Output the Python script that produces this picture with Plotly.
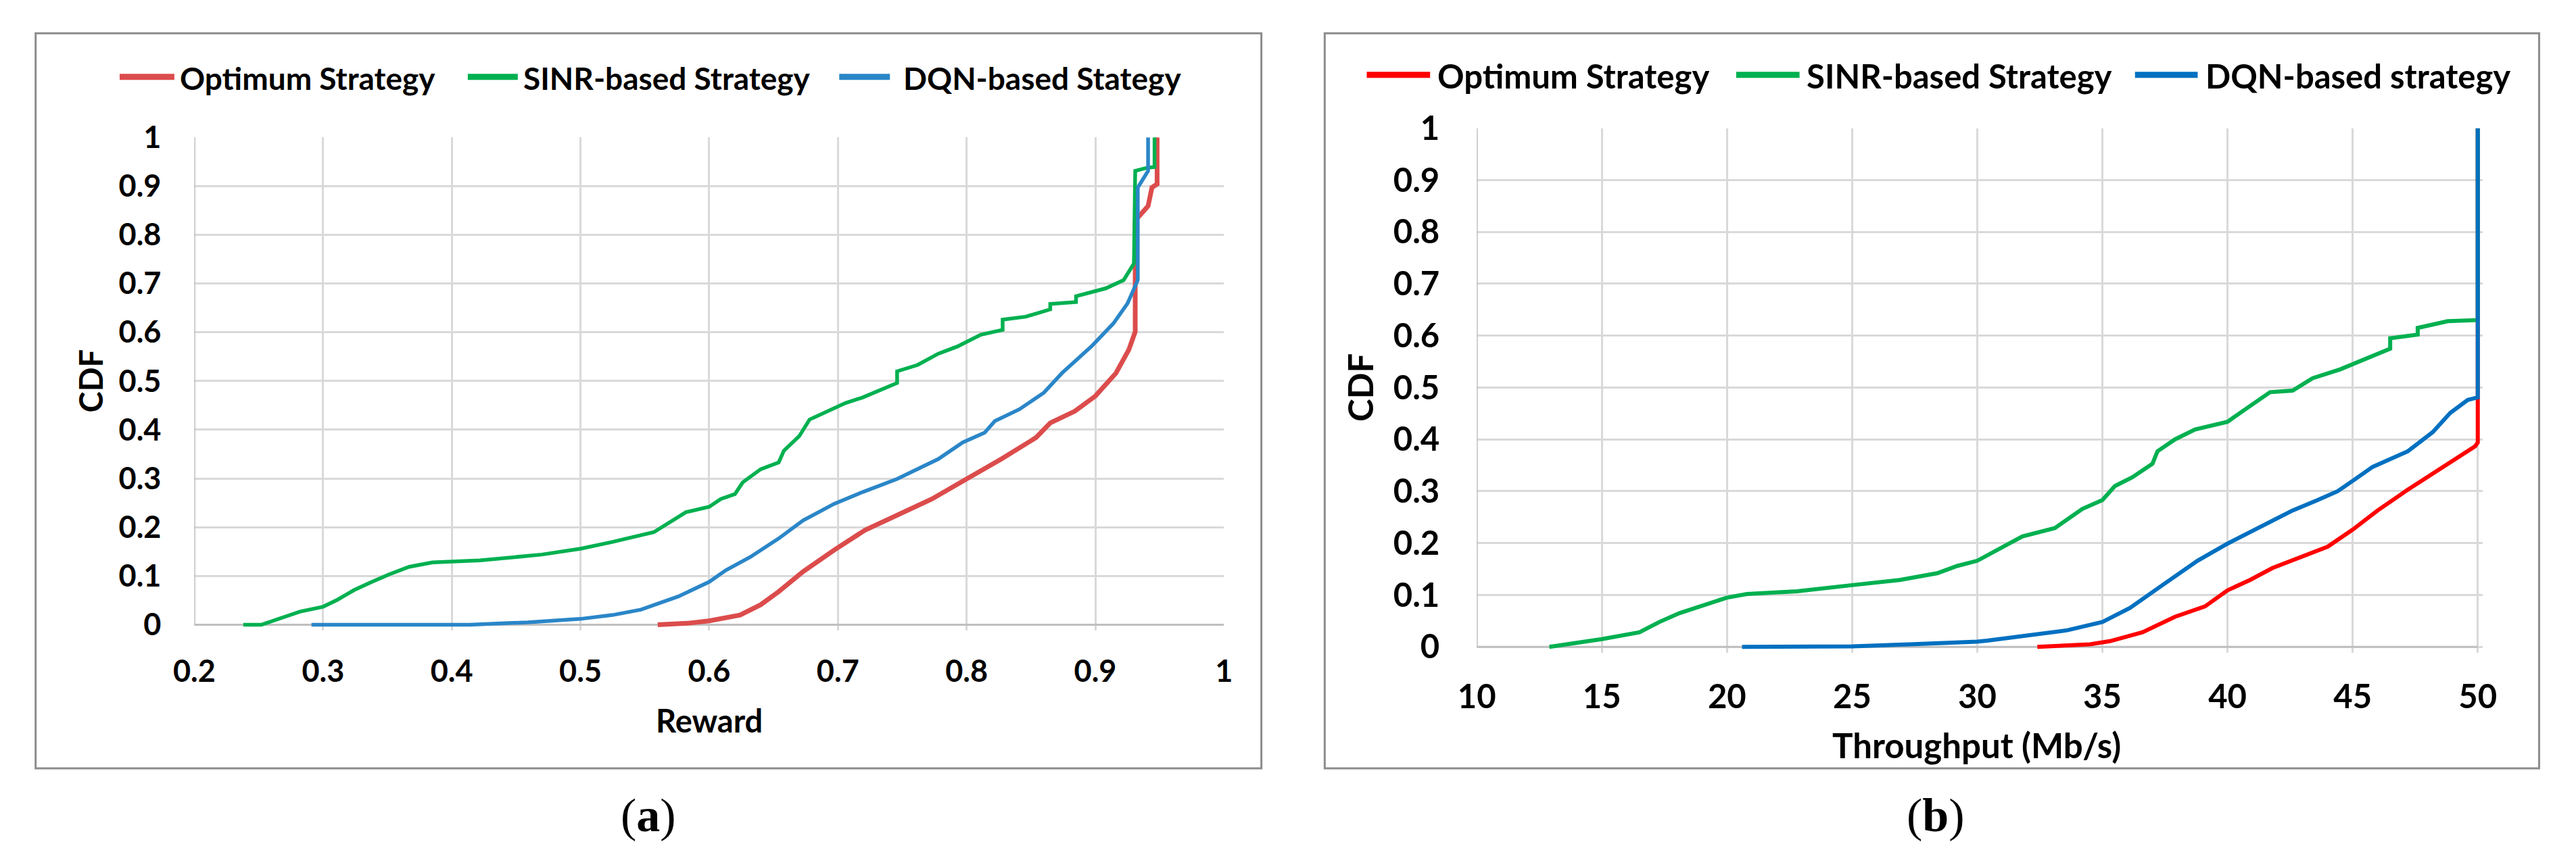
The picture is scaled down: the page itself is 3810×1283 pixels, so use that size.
import plotly.graph_objects as go

W, H = 3810, 1283

# ---------------- data: (a) reward CDF ----------------
opt_a_x = [0.560, 0.583, 0.600, 0.610, 0.624, 0.640, 0.654, 0.673, 0.697, 0.721, 0.746, 0.773, 0.800,
           0.827, 0.854, 0.865, 0.884, 0.900, 0.916, 0.926, 0.931, 0.931, 0.941, 0.944, 0.948, 0.948]
opt_a_y = [0, 0.003, 0.008, 0.013, 0.020, 0.041, 0.068, 0.109, 0.153, 0.194, 0.224, 0.258, 0.299,
           0.340, 0.384, 0.414, 0.438, 0.469, 0.516, 0.564, 0.601, 0.829, 0.859, 0.897, 0.904, 1.0]

sinr_a_x = [0.238, 0.252, 0.282, 0.300, 0.311, 0.324, 0.338, 0.351, 0.367, 0.385, 0.422, 0.470, 0.500,
            0.525, 0.557, 0.582, 0.600, 0.609, 0.620, 0.626, 0.640, 0.654, 0.658, 0.670, 0.678, 0.695,
            0.706, 0.719, 0.733, 0.746, 0.746, 0.762, 0.778, 0.793, 0.811, 0.828, 0.828, 0.846, 0.865,
            0.865, 0.885, 0.885, 0.908, 0.922, 0.930, 0.931, 0.941, 0.946, 0.946]
sinr_a_y = [0, 0, 0.027, 0.037, 0.051, 0.071, 0.088, 0.103, 0.119, 0.128, 0.132, 0.144, 0.156,
            0.170, 0.190, 0.231, 0.242, 0.258, 0.268, 0.292, 0.319, 0.333, 0.357, 0.387, 0.421, 0.442,
            0.455, 0.466, 0.482, 0.496, 0.520, 0.533, 0.556, 0.571, 0.595, 0.605, 0.626, 0.632, 0.647,
            0.658, 0.662, 0.674, 0.690, 0.707, 0.741, 0.931, 0.938, 0.939, 1.0]

dqn_a_x = [0.291, 0.414, 0.459, 0.500, 0.525, 0.547, 0.576, 0.600, 0.613, 0.632, 0.654, 0.673, 0.697,
           0.719, 0.746, 0.762, 0.778, 0.797, 0.814, 0.822, 0.841, 0.860, 0.874, 0.897, 0.914, 0.925,
           0.933, 0.933, 0.941, 0.941]
dqn_a_y = [0, 0, 0.005, 0.012, 0.020, 0.031, 0.058, 0.088, 0.112, 0.139, 0.177, 0.214, 0.248,
           0.272, 0.299, 0.319, 0.340, 0.374, 0.394, 0.418, 0.442, 0.476, 0.516, 0.571, 0.618, 0.659,
           0.707, 0.897, 0.931, 1.0]

# ---------------- data: (b) throughput CDF ----------------
opt_b_x = [32.4, 34.5, 35.3, 36.6, 37.9, 39.1, 40.0, 40.9, 41.8, 44.0, 45.0, 46.0, 47.2, 48.4, 49.9, 50.0, 50.0]
opt_b_y = [0, 0.005, 0.011, 0.028, 0.058, 0.078, 0.109, 0.129, 0.152, 0.193, 0.226, 0.263, 0.303, 0.340,
           0.387, 0.394, 1.0]

sinr_b_x = [12.9, 13.6, 15.0, 16.5, 17.3, 18.1, 19.4, 20.0, 20.8, 22.8, 25.0, 26.9, 28.4, 29.2, 30.0,
            30.8, 31.8, 33.1, 34.2, 35.0, 35.5, 36.2, 37.0, 37.2, 37.9, 38.7, 40.0, 40.8, 41.7, 42.6,
            43.4, 44.5, 45.5, 46.5, 46.5, 47.6, 47.6, 48.8, 50.0, 50.0]
sinr_b_y = [0, 0.005, 0.015, 0.028, 0.048, 0.065, 0.085, 0.095, 0.102, 0.107, 0.119, 0.129, 0.142, 0.156,
            0.166, 0.186, 0.213, 0.229, 0.266, 0.283, 0.310, 0.327, 0.353, 0.377, 0.400, 0.419, 0.434,
            0.461, 0.491, 0.494, 0.518, 0.535, 0.555, 0.575, 0.595, 0.602, 0.615, 0.628, 0.630, 1.0]

dqn_b_x = [20.6, 25.0, 27.3, 29.0, 30.0, 30.4, 32.4, 33.6, 35.0, 36.1, 37.4, 38.8, 40.0, 41.2, 42.6,
           43.6, 44.4, 45.0, 45.8, 47.2, 48.2, 48.9, 49.6, 50.0, 50.0]
dqn_b_y = [0, 0.001, 0.005, 0.007, 0.010, 0.012, 0.025, 0.032, 0.048, 0.075, 0.119, 0.166, 0.199, 0.229,
           0.263, 0.283, 0.300, 0.320, 0.347, 0.377, 0.414, 0.451, 0.476, 0.481, 1.0]

# ---------------- labels ----------------
names_a = ["Optimum Strategy", "SINR-based Strategy", "DQN-based Stategy"]
names_b = ["Optimum Strategy", "SINR-based Strategy", "DQN-based strategy"]
y_ticks = [0, 0.1, 0.2, 0.3, 0.4, 0.5, 0.6, 0.7, 0.8, 0.9, 1]
y_ticktext = ["0", "0.1", "0.2", "0.3", "0.4", "0.5", "0.6", "0.7", "0.8", "0.9", "1"]
xa_ticks = [0.2, 0.3, 0.4, 0.5, 0.6, 0.7, 0.8, 0.9, 1]
xa_ticktext = ["0.2", "0.3", "0.4", "0.5", "0.6", "0.7", "0.8", "0.9", "1"]
xb_ticks = [10, 15, 20, 25, 30, 35, 40, 45, 50]
xb_ticktext = ["10", "15", "20", "25", "30", "35", "40", "45", "50"]

colors_a = ["#DC4C4C", "#00B050", "#2A86C8"]
colors_b = ["#FF0000", "#00B050", "#0070C0"]
widths_a = [7, 5.5, 5.5]
widths_b = [6, 6, 6]

FONT = "Lato"
GRID = "#D9D9D9"
AXL = "#BFBFBF"
BORDER = "#8C8C8C"


def px(x):
    return x / W


def py(y):
    return 1 - y / H


fig = go.Figure()

series_a = [(opt_a_x, opt_a_y), (sinr_a_x, sinr_a_y), (dqn_a_x, dqn_a_y)]
series_b = [(opt_b_x, opt_b_y), (sinr_b_x, sinr_b_y), (dqn_b_x, dqn_b_y)]

for (xs, ys), nm, c, w in zip(series_a, names_a, colors_a, widths_a):
    fig.add_trace(go.Scatter(x=xs, y=ys, mode="lines", name=nm, showlegend=False,
                             line=dict(color=c, width=w), xaxis="x", yaxis="y"))
for (xs, ys), nm, c, w in zip(series_b, names_b, colors_b, widths_b):
    fig.add_trace(go.Scatter(x=xs, y=ys, mode="lines", name=nm, showlegend=False,
                             line=dict(color=c, width=w), xaxis="x2", yaxis="y2"))

# geometry (pixels of the 3810x1283 page)
# panel a: x 0.2 -> 260px, 1.0 -> 1804px ; y 0 -> 929px, 1 -> 179px
a_ext = 0.012
a_bottom = 929 + a_ext * 750
# panel b: x 10 -> 2183px, 50 -> 3684px ; y 0 -> 963px, 1 -> 165px
b_xext = 0.2
b_right = 3684 + b_xext * (1501 / 40)
b_ext = 0.012
b_bottom = 963 + b_ext * 798

tickfont_a = dict(family=FONT, size=45, color="black", weight="bold")
tickfont_b = dict(family=FONT, size=49, color="black", weight="bold")

common = dict(showgrid=True, gridcolor=GRID, gridwidth=3, zeroline=False, showline=False,
              ticks="", fixedrange=True)

fig.update_layout(
    width=W, height=H,
    margin=dict(l=0, r=0, t=0, b=0, pad=0),
    paper_bgcolor="white", plot_bgcolor="white",
    showlegend=False,
    xaxis=dict(domain=[px(260), px(1804)], range=[0.2, 1.0], tickvals=xa_ticks, ticktext=xa_ticktext,
               tickfont=tickfont_a, anchor="y", ticklabelstandoff=30, **common),
    yaxis=dict(domain=[py(a_bottom), py(179)], range=[-a_ext, 1.0], tickvals=y_ticks, ticktext=y_ticktext,
               tickfont=tickfont_a, anchor="x", ticklabelstandoff=48, **common),
    xaxis2=dict(domain=[px(2183), px(b_right)], range=[10, 50 + b_xext], tickvals=xb_ticks,
                ticktext=xb_ticktext, tickfont=tickfont_b, anchor="y2", ticklabelstandoff=32, **common),
    yaxis2=dict(domain=[py(b_bottom), py(165)], range=[-b_ext, 1.0], tickvals=y_ticks, ticktext=y_ticktext,
                tickfont=tickfont_b, anchor="x2", ticklabelstandoff=54, **common),
)

shapes = []
# panel borders
shapes.append(dict(type="rect", xref="paper", yref="paper", x0=px(22), x1=px(1860), y0=py(1150), y1=py(19),
                   line=dict(color=BORDER, width=3), fillcolor="rgba(0,0,0,0)", layer="below"))
shapes.append(dict(type="rect", xref="paper", yref="paper", x0=px(1955), x1=px(3776), y0=py(1150), y1=py(19),
                   line=dict(color=BORDER, width=3), fillcolor="rgba(0,0,0,0)", layer="below"))
# axis lines
shapes.append(dict(type="line", xref="x", yref="y", x0=0.2, x1=1.0, y0=0, y1=0,
                   line=dict(color=AXL, width=3), layer="between"))
shapes.append(dict(type="line", xref="x", yref="y", x0=0.2, x1=0.2, y0=0, y1=1,
                   line=dict(color=AXL, width=3), layer="between"))
shapes.append(dict(type="line", xref="x2", yref="y2", x0=10, x1=50, y0=0, y1=0,
                   line=dict(color=AXL, width=3), layer="between"))
shapes.append(dict(type="line", xref="x2", yref="y2", x0=10, x1=10, y0=0, y1=1,
                   line=dict(color=AXL, width=3), layer="between"))

annotations = []
# legend (a)
leg_a = [(148, 230, 236), (670, 745, 751), (1227, 1303, 1321)]
for (l0, l1, tx), nm, c in zip(leg_a, names_a, colors_a):
    shapes.append(dict(type="line", xref="paper", yref="paper", x0=px(l0), x1=px(l1), y0=py(86), y1=py(86),
                       line=dict(color=c, width=9)))
    annotations.append(dict(xref="paper", yref="paper", x=px(tx), y=py(88), xanchor="left", yanchor="middle",
                            text=nm, showarrow=False, font=dict(family=FONT, size=46, color="black", weight="bold")))
# legend (b)
leg_b = [(2018, 2113, 2122), (2572, 2667, 2676), (3170, 3264, 3274)]
for (l0, l1, tx), nm, c in zip(leg_b, names_b, colors_b):
    shapes.append(dict(type="line", xref="paper", yref="paper", x0=px(l0), x1=px(l1), y0=py(83), y1=py(83),
                       line=dict(color=c, width=9)))
    annotations.append(dict(xref="paper", yref="paper", x=px(tx), y=py(84), xanchor="left", yanchor="middle",
                            text=nm, showarrow=False, font=dict(family=FONT, size=49, color="black", weight="bold")))

# axis titles
annotations.append(dict(xref="paper", yref="paper", x=px(104), y=py(554), text="CDF", textangle=-90,
                        showarrow=False, xanchor="center", yanchor="middle",
                        font=dict(family=FONT, size=47, color="black", weight="bold")))
annotations.append(dict(xref="paper", yref="paper", x=px(1032), y=py(1076), text="Reward",
                        showarrow=False, xanchor="center", yanchor="middle",
                        font=dict(family=FONT, size=47, color="black", weight="bold")))
annotations.append(dict(xref="paper", yref="paper", x=px(2008), y=py(564), text="CDF", textangle=-90,
                        showarrow=False, xanchor="center", yanchor="middle",
                        font=dict(family=FONT, size=51, color="black", weight="bold")))
annotations.append(dict(xref="paper", yref="paper", x=px(2933), y=py(1114), text="Throughput (Mb/s)",
                        showarrow=False, xanchor="center", yanchor="middle",
                        font=dict(family=FONT, size=51, color="black", weight="bold")))
# captions
annotations.append(dict(xref="paper", yref="paper", x=px(941), y=py(1222), text="(<b>a</b>)",
                        showarrow=False, xanchor="center", yanchor="middle",
                        font=dict(family="Liberation Serif", size=70, color="black")))
annotations.append(dict(xref="paper", yref="paper", x=px(2871), y=py(1222), text="(<b>b</b>)",
                        showarrow=False, xanchor="center", yanchor="middle",
                        font=dict(family="Liberation Serif", size=70, color="black")))

fig.update_layout(shapes=shapes, annotations=annotations)
fig.write_html("out.html", config={"displayModeBar": False},
               post_script="document.body.style.margin='0px';document.body.style.overflow='hidden';")
